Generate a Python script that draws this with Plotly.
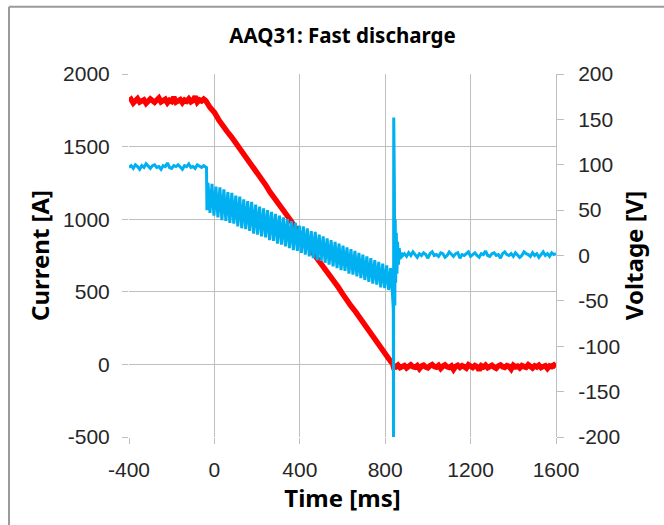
import plotly.graph_objects as go

# ---------------- data ----------------
# sampling grids [ms]
pre_t = list(range(-400, -39, 10))          # flat section before the discharge
red_post_t = list(range(840, 1601, 10))      # current after the discharge
blue_post_t = list(range(890, 1601, 10))     # voltage after the discharge

# Current [A]
red_pre = [1812, 1825, 1800, 1818, 1830, 1806, 1815, 1822, 1798, 1810,
           1828, 1817, 1805, 1820, 1835, 1808, 1814, 1826, 1802, 1819,
           1811, 1840, 1807, 1816, 1824, 1803, 1821, 1812, 1829, 1809,
           1818, 1845, 1806, 1822, 1814, 1827, 1815]
red_ramp_t = [-40, -20, 0, 20, 40, 60, 80, 100, 120, 140, 160, 180, 200, 220,
              240, 260, 280, 300, 320, 340, 360, 380, 400, 420, 440, 460, 480,
              500, 520, 540, 560, 580, 600, 620, 640, 660, 680, 700, 720, 740,
              760, 780, 800, 815, 827, 833, 838]
red_ramp = [1815, 1768, 1735, 1685, 1651, 1603, 1566, 1526, 1480, 1445, 1402,
            1355, 1317, 1280, 1236, 1188, 1150, 1112, 1068, 1022, 986, 940,
            902, 866, 820, 772, 734, 698, 655, 608, 570, 532, 487, 440, 402,
            365, 322, 276, 238, 200, 153, 110, 72, 44, 18, 14, -12]
red_post = [-10, -18, -5, -22, -12, -8, -25, -14, -3, -16, -20, -9, -30, -12, -6, -18, -24, -10, -2, -15,
            -19, -7, -28, -13, -4, -17, -21, -11, -35, -14, -6, -20, -9, -16, -26, -3, -12, -22, -8, -15,
            -40, -10, -18, -5, -23, -13, -7, -19, -27, -11, -4, -16, -21, -9, -14, -32, -6, -17, -12, -24,
            -8, -15, -20, -3, -13, -25, -10, -18, -6, -22, -14, -9, -28, -11, -16, -5, -19]

# Voltage [V]
blue_pre = [97, 99, 96, 100, 98, 95, 99, 97, 101, 98,
            96, 99, 100, 97, 98, 95, 99, 98, 102, 97,
            96, 99, 98, 100, 97, 95, 99, 98, 101, 97,
            98, 96, 100, 98, 97, 99, 98]
blue_drop_t = [-37, -35]
blue_drop = [97, 50]
# oscillating section: alternating peaks / troughs, half period 9.3 ms from -30 ms
osc_start, osc_half_period = -30, 9.3
blue_osc = [80, 47, 79, 44, 76, 42, 75, 39, 73, 38,
            70, 36, 69, 35, 66, 32, 65, 30, 62, 29,
            60, 27, 59, 24, 56, 23, 54, 21, 52, 20,
            50, 17, 48, 16, 46, 13, 44, 12, 42, 10,
            40, 8, 38, 6, 36, 5, 33, 3, 32, 1,
            30, -1, 27, -3, 26, -5, 23, -6, 21, -8,
            19, -10, 17, -12, 15, -14, 13, -16, 11, -17,
            9, -20, 7, -21, 5, -23, 3, -25, 1, -27,
            -1, -29, -3, -31, -5, -32, -7, -35, -9, -36,
            -11, -38, -14, -46]
spike_t = [838, 839, 840, 841.5, 843, 845, 847, 849, 852, 855, 858, 862, 866, 870, 876, 882]
spike_v = [-60, -215, 152, -40, 75, -55, 40, -30, 25, -20, 15, -10, 8, -4, 3, 0]
blue_post = [2, -1, 3, 0, 4, 1, -2, 2, 0, 3,
             1, -3, 2, 4, 0, 1, -1, 3, 2, -2,
             0, 4, 1, -1, 2, 3, -3, 1, 0, 2,
             4, -1, 1, 3, 0, -2, 2, 1, 5, 0,
             -1, 2, 3, 0, 1, -3, 2, 4, 1, 0,
             2, -1, 3, 1, -2, 0, 4, 2, 1, -1,
             3, 0, 2, -2, 1, 4, 0, 2, -1, 3,
             1, 2]

x_ticks = [-400, 0, 400, 800, 1200, 1600]
y1_ticks = [-500, 0, 500, 1000, 1500, 2000]
y2_ticks = [-200, -150, -100, -50, 0, 50, 100, 150, 200]

# ---------------- assemble series ----------------
osc_t = [osc_start + osc_half_period * k for k in range(len(blue_osc))]
cur_t = pre_t + red_ramp_t + red_post_t
cur_v = red_pre + red_ramp + red_post
vol_t = pre_t + blue_drop_t + osc_t + spike_t + blue_post_t
vol_v = blue_pre + blue_drop + blue_osc + spike_v + blue_post

GRID = "#BFBFBF"
TICKFONT = dict(family="Liberation Sans", size=21, color="#262626")
TITLEFONT = dict(family="Noto Sans", size=24, color="#000000", weight="bold")

fig = go.Figure()
fig.add_trace(go.Scatter(x=cur_t, y=cur_v, mode="lines", name="Current",
                         line=dict(color="#FF0000", width=5.5), yaxis="y"))
fig.add_trace(go.Scatter(x=vol_t, y=vol_v, mode="lines", name="Voltage",
                         line=dict(color="#00B0F0", width=3), yaxis="y2"))

# thin frame (left and top border of the chart area)
fig.add_shape(type="line", xref="paper", yref="paper", x0=-0.281, x1=-0.281,
              y0=-0.3, y1=1.185, line=dict(color="#9A9A9A", width=2))
fig.add_shape(type="line", xref="paper", yref="paper", x0=-0.281, x1=1.3,
              y0=1.185, y1=1.185, line=dict(color="#9A9A9A", width=2))

fig.update_layout(
    width=664, height=525,
    margin=dict(l=129, r=108, t=74, b=88),
    paper_bgcolor="white", plot_bgcolor="white",
    showlegend=False,
    title=dict(text="AAQ31: Fast discharge", x=0.5, xref="paper",
               y=1 - 36 / 525, yref="container", yanchor="middle",
               font=dict(family="Noto Sans", size=20.5, color="#000000", weight="bold")),
    xaxis=dict(range=[-400, 1600], tickvals=x_ticks, ticktext=[str(v) for v in x_ticks],
               showgrid=True, gridcolor=GRID,
               gridwidth=1, zeroline=False, showline=False, ticks="outside",
               ticklen=6, tickcolor=GRID, tickfont=TICKFONT, ticklabelstandoff=8,
               title=dict(text="Time [ms]", font=TITLEFONT, standoff=4),
               automargin=False),
    yaxis=dict(range=[-500, 2000], tickvals=y1_ticks, ticktext=[str(v) for v in y1_ticks],
               showgrid=True, gridcolor=GRID,
               gridwidth=1, zeroline=False, showline=False, ticks="outside",
               ticklen=6, tickcolor=GRID, tickfont=TICKFONT, ticklabelstandoff=8,
               title=dict(text="Current [A]", font=TITLEFONT, standoff=6),
               automargin=False),
    yaxis2=dict(range=[-200, 200], tickvals=y2_ticks, ticktext=[str(v) for v in y2_ticks],
                overlaying="y", side="right",
                showgrid=False, zeroline=False, showline=True, linecolor=GRID,
                linewidth=1, ticks="outside", ticklen=7, tickcolor=GRID,
                tickfont=TICKFONT, ticklabelstandoff=10,
                title=dict(text="Voltage [V]", font=TITLEFONT, standoff=6),
                automargin=False),
)

fig.write_html("out.html", config={"displayModeBar": False},
               post_script="document.body.style.margin='0';")
